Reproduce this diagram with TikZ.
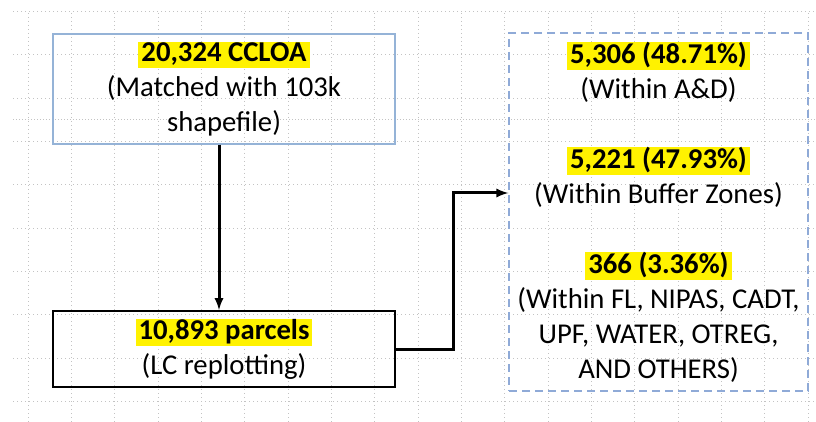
\documentclass[tikz,border=0pt]{standalone}
\usepackage{fontspec}
\setmainfont{Carlito}
\usetikzlibrary{arrows}
\definecolor{boxblue}{RGB}{149,179,215}
\definecolor{dashblue}{RGB}{143,170,215}
\definecolor{gridgray}{RGB}{195,195,195}
\newcommand{\hl}[1]{{\setlength{\fboxsep}{0pt}\colorbox{yellow}{\rule[-7pt]{0pt}{24pt}\kern3pt\textbf{#1}\kern3pt}}}

\begin{document}
\begin{tikzpicture}[x=1pt,y=-1pt,>=latex,node distance=260pt,
    box/.style={draw,rectangle,line width=1.5pt,minimum width=342pt,inner sep=0pt,
      align=center,font=\fontsize{28.7}{35}\selectfont},
    link/.style={->,line width=3pt},
    grid/.style={gridgray,line width=1pt,dash pattern=on 1pt off 3pt}]
    \useasboundingbox (0,0) rectangle (816,422);
    \foreach \y in {0,...,9}
      \draw[grid] (13,11.5+43.35*\y) -- (816,11.5+43.35*\y);
    \foreach \x in {0,...,18}
      \draw[grid] (28+43.35*\x,13) -- (28+43.35*\x,422);
    \draw[grid,line width=0.6pt,dash pattern=on 1pt off 2pt] (13,119) -- (816,119);
    \node[box,draw=boxblue,minimum height=110pt] (ccloa) at (224,89)
      {\hl{20,324 CCLOA}\\(Matched with 103k\\shapefile)};
    \node[box,draw=black,line width=2pt,minimum height=76pt] (parcels) [below of=ccloa]
      {\hl{10,893 parcels}\\(LC replotting)};
    \node[box,draw=dashblue,dash pattern=on 8pt off 5pt,minimum width=299pt,minimum height=358pt] (results) at (658.5,212)
      {\hl{5,306 (48.71\%)}\\(Within A\&D)\\[35pt]
       \hl{5,221 (47.93\%)}\\(Within Buffer Zones)\\[35pt]
       \hl{366 (3.36\%)}\\(Within FL, NIPAS, CADT,\\UPF, WATER, OTREG,\\AND OTHERS)};
    \draw[link] ([xshift=-5pt]ccloa.south) -- ([xshift=-5pt]parcels.north);
    \draw[link] (parcels.east) -- ++(57,0) |- ([yshift=19pt]results.west);
  \end{tikzpicture}
\end{document}
